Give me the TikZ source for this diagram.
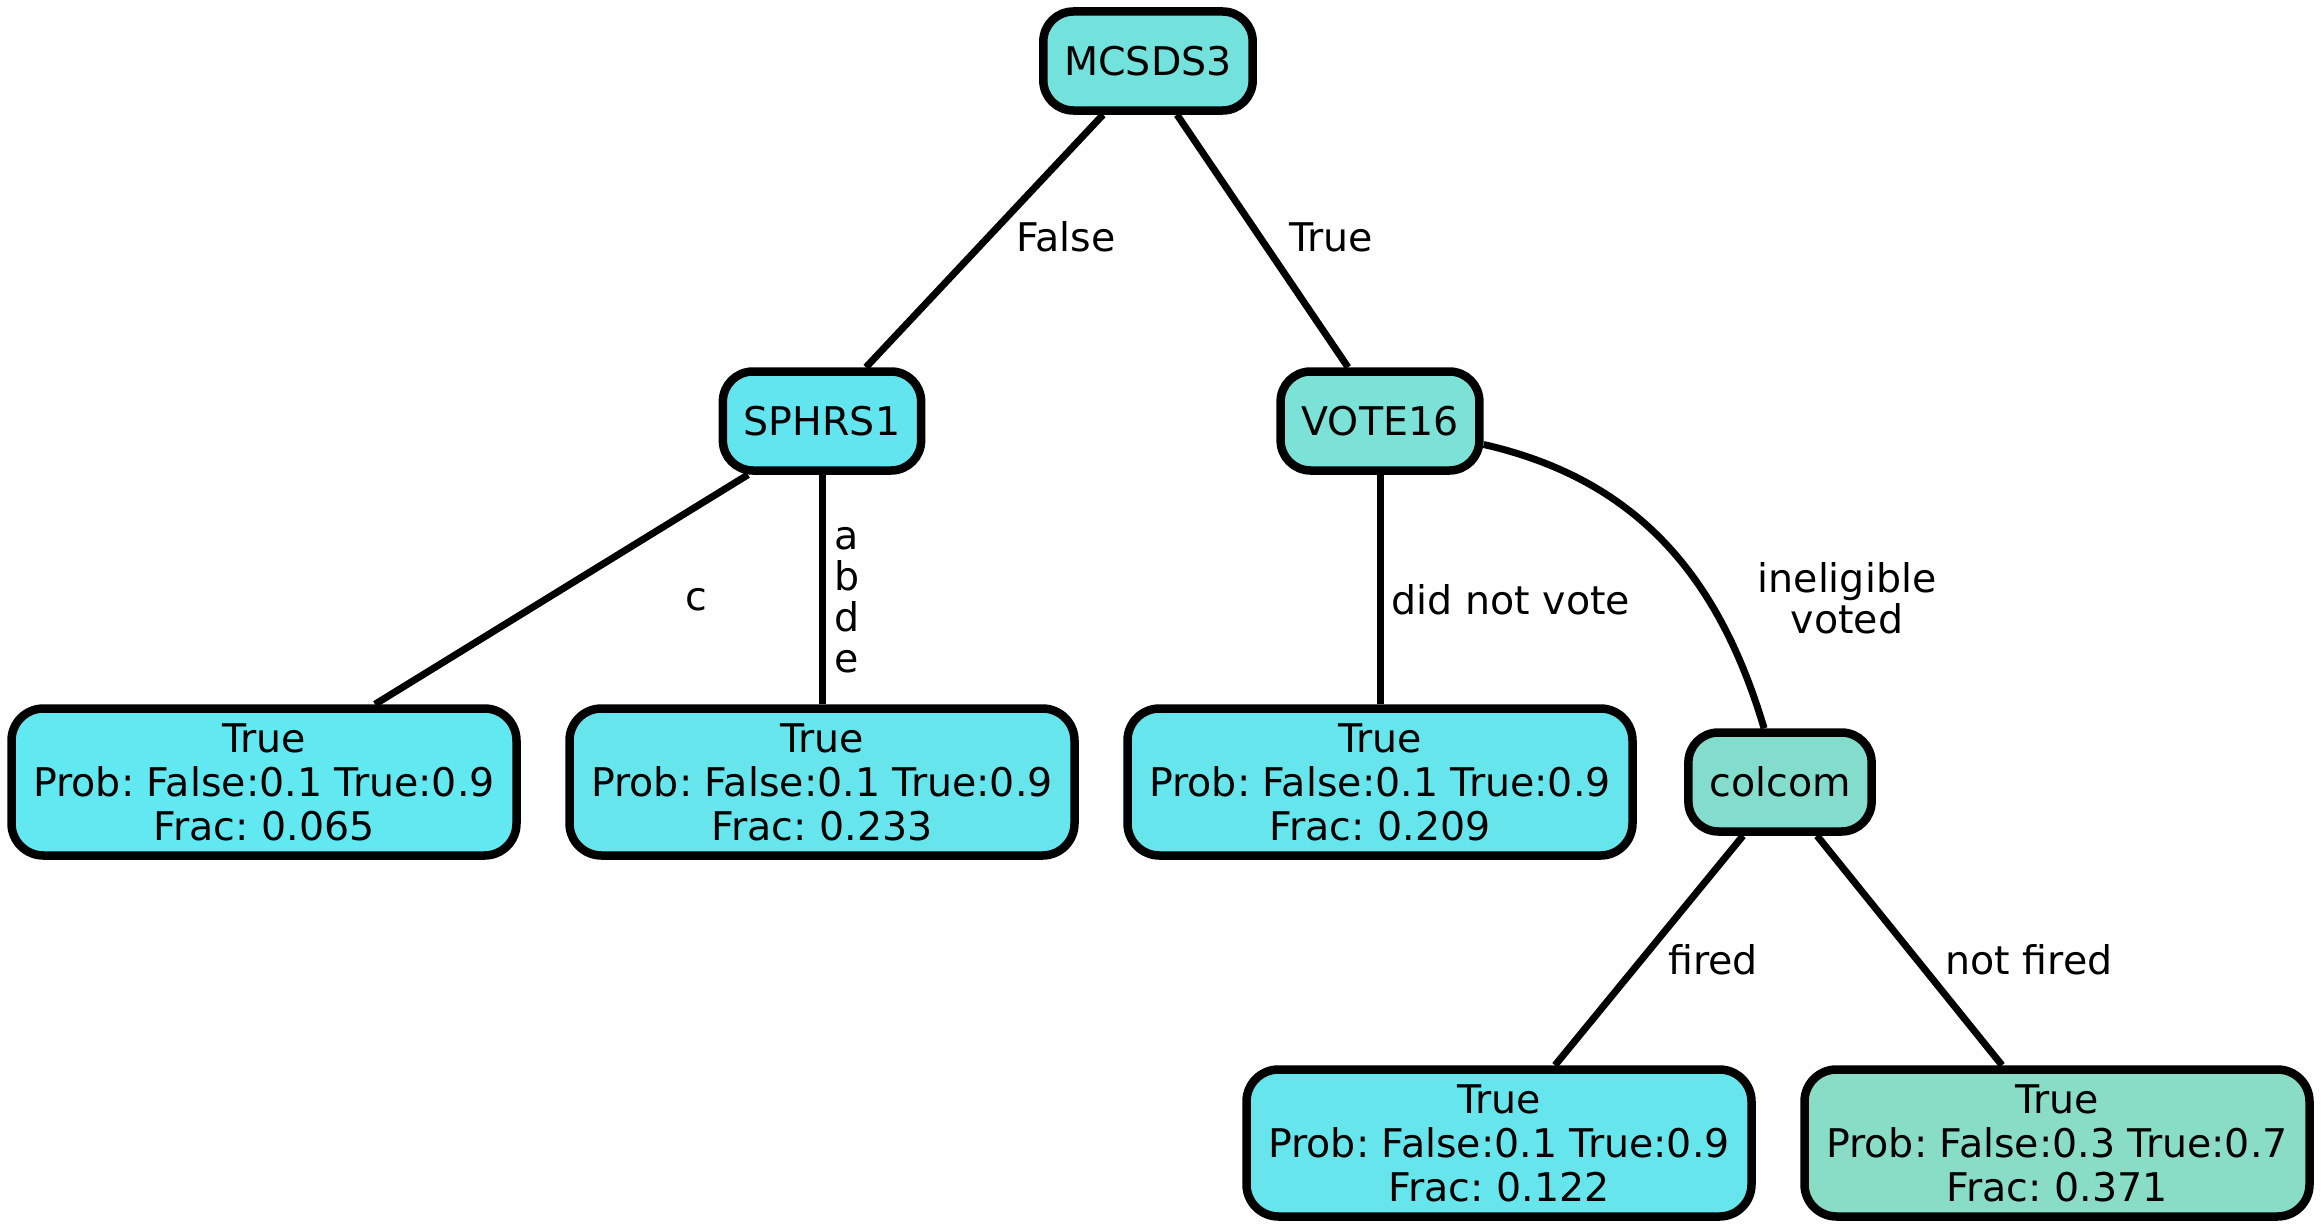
\documentclass[tikz,border=0pt]{standalone}
\usepackage{fontspec}
\setmainfont{DejaVu Sans}
\usepackage{tikz}
\usetikzlibrary{positioning}
\definecolor{rootTeal}{HTML}{73E2DC}
\definecolor{leafCyan}{HTML}{66E6EC}
\definecolor{deepCyan}{HTML}{61E8F0}
\definecolor{splitCyan}{HTML}{62E5EE}
\definecolor{voteTeal}{HTML}{7CE1D7}
\definecolor{colcomMint}{HTML}{84DDCC}
\definecolor{leafMint}{HTML}{89DCC6}
\frenchspacing

\begin{document}
\begin{tikzpicture}[x=1pt, y=-1pt,
  every node/.style={font=\fontsize{39.5}{44}\selectfont},
  split/.style={draw=black, line width=8.5pt, rounded corners=30pt,
                minimum height=99pt, inner xsep=21pt},
  leaf/.style={draw=black, line width=8.5pt, rounded corners=32pt,
               minimum width=505pt, minimum height=147pt, inner sep=2pt, align=center},
  branch/.style={line width=7pt},
  elabel/.style={inner sep=0pt, align=center, font=\fontsize{39.5}{41}\selectfont},
]
\useasboundingbox (0,0) rectangle (2322,1231);
% --- split nodes ---
\node[split, fill=rootTeal] (mcsds) at (1148,61) {MCSDS3};
\node[split, fill=splitCyan] (sphrs) at (822,421) {SPHRS1};
\node[split, fill=voteTeal] (vote) at (1380,421) {VOTE16};
\node[split, fill=colcomMint] (colcom) at (1780,782) {colcom};
% --- leaves ---
\node[leaf, fill=deepCyan] (lc) at (264,782) {True\\Prob: False:0.1 True:0.9\\Frac: 0.065};
\node[leaf, fill=leafCyan] (labde) at (822,782) {True\\Prob: False:0.1 True:0.9\\Frac: 0.233};
\node[leaf, fill=leafCyan] (lnovote) at (1380,782) {True\\Prob: False:0.1 True:0.9\\Frac: 0.209};
\node[leaf, fill=leafCyan] (lfired) at (1499,1143) {True\\Prob: False:0.1 True:0.9\\Frac: 0.122};
\node[leaf, fill=leafMint] (lnotfired) at (2057,1143) {True\\Prob: False:0.3 True:0.7\\Frac: 0.371};
% --- branches ---
\draw[branch] ([xshift=-45pt]mcsds.south) -- ([xshift=44pt]sphrs.north);
\draw[branch] ([xshift=29pt]mcsds.south) -- ([xshift=-32pt]vote.north);
\draw[branch] ([xshift=-74pt]sphrs.south) -- ([xshift=111pt]lc.north);
\draw[branch] (sphrs) -- (labde);
\draw[branch] (vote) -- (lnovote);
\draw[branch] (vote) .. controls (1640,480) and (1720,580) .. (colcom);
\draw[branch] ([xshift=-37pt]colcom.south) -- ([xshift=56pt]lfired.north);
\draw[branch] ([xshift=37pt]colcom.south) -- ([xshift=-55pt]lnotfired.north);
% --- branch labels ---
\node[elabel] (tfalse) at (1066,237) {False};
\node[elabel] (ttrue) at (1331,237) {True};
\node[elabel] (tc) at (696,600) {c};
\node[elabel] (tabde) at (847,600) {a\\b\\d\\e};
\node[elabel] (tnovote) at (1511,600) {did not vote};
\node[elabel] (tvoted) at (1847,598) {ineligible\\voted};
\node[elabel] (tfired) at (1713,960) {fired};
\node[elabel] (tnotfired) at (2029,960) {not fired};
\end{tikzpicture}
\end{document}
